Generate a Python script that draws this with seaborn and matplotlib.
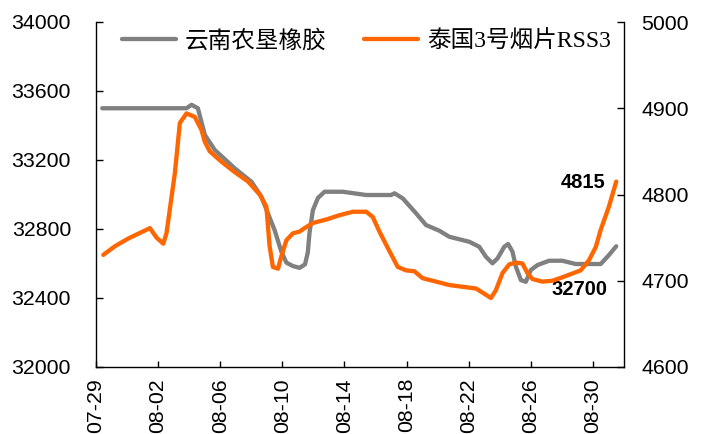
import numpy as np
import pandas as pd
import matplotlib
matplotlib.use("Agg")
import matplotlib.pyplot as plt
from matplotlib.lines import Line2D
from matplotlib.font_manager import FontProperties
import seaborn as sns

# ---------------- data ----------------
start = "2024-07-29"
tick_labels = ["07-29", "08-02", "08-06", "08-10", "08-14",
               "08-18", "08-22", "08-26", "08-30"]

gray_name = "云南农垦橡胶"
gray_day = [0.40, 5.83, 6.15, 6.56, 7.01, 7.65, 8.93, 10.01, 10.65, 11.07,
            11.50, 11.93, 12.26, 12.68, 13.11, 13.46, 13.64, 13.75, 13.97,
            14.29, 14.72, 15.89, 17.40, 19.00, 19.22, 19.75, 20.61, 21.25,
            22.11, 22.75, 24.04, 24.68, 25.11, 25.53, 25.86, 26.29, 26.54,
            26.82, 27.04, 27.36, 27.68, 28.00, 28.43, 29.18, 30.03, 30.89,
            32.50, 33.03, 33.50]
gray_val = [33500, 33500, 33520, 33500, 33345, 33258, 33152, 33074, 32987,
            32891, 32794, 32670, 32605, 32585, 32575, 32595, 32665, 32780,
            32910, 32980, 33016, 33016, 32997, 32997, 33007, 32978, 32891,
            32823, 32790, 32755, 32726, 32697, 32639, 32601, 32630, 32697,
            32713, 32668, 32581, 32504, 32494, 32562, 32591, 32616, 32616,
            32597, 32597, 32649, 32700]

orange_name = "泰国3号烟片RSS3"
orange_day = [0.47, 1.22, 2.08, 3.47, 3.90, 4.33, 4.54, 5.08, 5.40, 5.83,
              6.36, 6.79, 7.01, 7.33, 8.08, 8.93, 9.79, 10.54, 10.97, 11.18,
              11.39, 11.72, 11.93, 12.26, 12.68, 13.11, 13.43, 13.97, 14.83,
              15.68, 16.54, 17.40, 17.82, 18.25, 18.79, 19.43, 19.97, 20.50,
              21.03, 22.11, 22.75, 24.47, 25.00, 25.43, 25.75, 26.18, 26.61,
              27.04, 27.46, 27.78, 28.10, 28.75, 29.39, 30.03, 31.21, 31.75,
              32.18, 32.50, 33.03, 33.50]
orange_val = [4730, 4740, 4749, 4761, 4750, 4743, 4755, 4825, 4883, 4894,
              4890, 4875, 4861, 4850, 4838, 4826, 4815, 4800, 4786, 4740,
              4716, 4714, 4728, 4747, 4755, 4757, 4761, 4767, 4771, 4776,
              4780, 4780, 4774, 4757, 4738, 4716, 4712, 4711, 4703, 4698,
              4695, 4691, 4685, 4680, 4689, 4709, 4719, 4721, 4720, 4709,
              4702, 4699, 4700, 4704, 4712, 4724, 4739, 4759, 4786, 4815]

left_ticks = [32000, 32400, 32800, 33200, 33600, 34000]
right_ticks = [4600, 4700, 4800, 4900, 5000]

# ---------------- style ----------------
sns.set_style("white")
plt.rcParams["font.family"] = ["Liberation Sans", "Noto Sans CJK SC", "DejaVu Sans"]
plt.rcParams["text.color"] = "black"

GRAY = "#808080"
ORANGE = "#FF6600"

t0 = pd.Timestamp(start)
gray_df = pd.DataFrame({"date": t0 + pd.to_timedelta(gray_day, unit="D"),
                        "value": gray_val})
orange_df = pd.DataFrame({"date": t0 + pd.to_timedelta(orange_day, unit="D"),
                          "value": orange_val})

W, H = 705, 434
fig = plt.figure(figsize=(W / 100, H / 100), dpi=100)
ax = fig.add_axes([96 / W, 1 - 367 / H, (624 - 96) / W, (367 - 22) / H])
ax2 = ax.twinx()

sns.lineplot(data=gray_df, x="date", y="value", ax=ax, color=GRAY,
             linewidth=3.1, estimator=None, sort=False,
             solid_joinstyle="round", solid_capstyle="round")
sns.lineplot(data=orange_df, x="date", y="value", ax=ax2, color=ORANGE,
             linewidth=3.1, estimator=None, sort=False,
             solid_joinstyle="round", solid_capstyle="round")

ax.set_xlim(t0, t0 + pd.Timedelta(days=34))
ax.set_ylim(left_ticks[0], left_ticks[-1])
ax2.set_ylim(right_ticks[0], right_ticks[-1])
ax.set_yticks(left_ticks)
ax.set_yticklabels([str(v) for v in left_ticks])
ax2.set_yticks(right_ticks)
ax2.set_yticklabels([str(v) for v in right_ticks])
tick_dates = [t0 + pd.Timedelta(days=4 * i) for i in range(len(tick_labels))]
ax.set_xticks(tick_dates)
ax.set_xticklabels(tick_labels, rotation=90)

for a in (ax, ax2):
    a.set_xlabel("")
    a.set_ylabel("")
    a.spines["top"].set_visible(False)
    for s in a.spines.values():
        s.set_color("black")
        s.set_linewidth(1.0)
ax.spines["right"].set_visible(False)
ax2.spines["left"].set_visible(False)
ax2.spines["bottom"].set_visible(False)

ax.tick_params(axis="y", direction="in", length=5, width=1, labelsize=15.3,
               pad=18, left=True, colors="black")
ax.tick_params(axis="x", direction="in", length=4, width=1, labelsize=15.3,
               pad=8, bottom=True, colors="black")
ax2.tick_params(axis="y", direction="in", length=5, width=1, labelsize=15.3,
                pad=12.5, right=True, colors="black")

# end-value labels
ax2.annotate(str(orange_val[-1]), xy=(orange_df["date"].iloc[-1], orange_val[-1]),
             xytext=(-8, -1), textcoords="offset points", ha="right",
             va="center", fontsize=14.5, fontweight="bold", color="black")
ax.annotate(str(gray_val[-1]), xy=(gray_df["date"].iloc[-1], gray_val[-1]),
            xytext=(-6.5, -31.5), textcoords="offset points", ha="right",
            va="center", fontsize=14.5, fontweight="bold", color="black")

# legend
fp = FontProperties(family=["Liberation Serif", "Noto Sans CJK SC"], size=17)
handles = [Line2D([], [], color=GRAY, linewidth=3.1),
           Line2D([], [], color=ORANGE, linewidth=3.1)]
leg = fig.legend(handles, [gray_name, orange_name], loc="center left",
                 bbox_to_anchor=(122 / W, 1 - 41 / H), ncol=2, frameon=False,
                 prop=fp, handlelength=2.3, handletextpad=0.35, columnspacing=1.6,
                 borderpad=0, borderaxespad=0)
for txt in leg.get_texts():
    txt.set_color("black")

fig.savefig("out.png", dpi=100)
